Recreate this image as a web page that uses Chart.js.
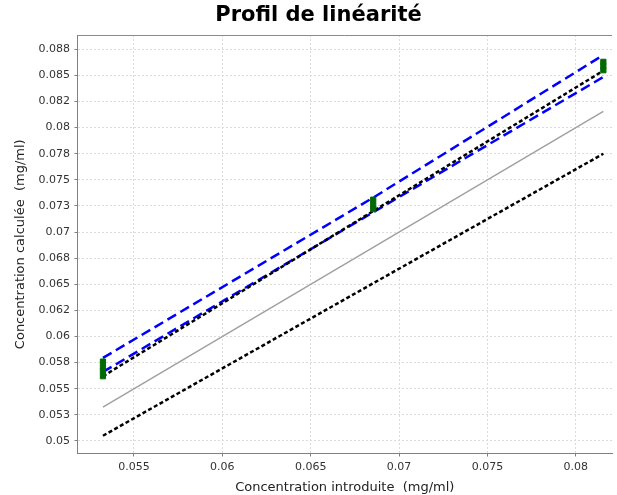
<!DOCTYPE html>
<html>
<head>
<meta charset="utf-8">
<script src="https://cdn.jsdelivr.net/npm/chart.js@4"></script>
<style>
  html, body { margin: 0; padding: 0; background: #ffffff; }
  #wrap { width: 617px; height: 495px; }
</style>
</head>
<body>
<div id="wrap"><canvas id="chart" width="617" height="495"></canvas></div>
<script>
// Concentration levels (introduced, mg/ml)
const xLevels = [0.05325, 0.06854, 0.08156];

// Measured (calculated) concentrations, replicates per level
const measuredL1 = [0.0576, 0.0571, 0.0567, 0.0562];
const measuredL2 = [0.0731, 0.0726, 0.0722];
const measuredL3 = [0.0863, 0.0859, 0.0855];

// Lines of the profile, one value per level
const upperTolerance = [0.05795, 0.0733, 0.08695];
const lowerTolerance = [0.05661, 0.0719, 0.08485];
const regressionLine = [0.0562, 0.07201, 0.08545];
const identityLine   = [0.05325, 0.06854, 0.08156];
const lowerLimit     = [0.0505, 0.0651, 0.0775];

// Axis ticks
const xTickValues = [0.055, 0.06, 0.065, 0.07, 0.075, 0.08];
const xTickLabels = ['0.055', '0.06', '0.065', '0.07', '0.075', '0.08'];
const yTickValues = [0.05, 0.0525, 0.055, 0.0575, 0.06, 0.0625, 0.065, 0.0675,
                     0.07, 0.0725, 0.075, 0.0775, 0.08, 0.0825, 0.085, 0.0875];
const yTickLabels = ['0.05', '0.053', '0.055', '0.058', '0.06', '0.062', '0.065', '0.068',
                     '0.07', '0.073', '0.075', '0.078', '0.08', '0.082', '0.085', '0.088'];

const chartTitle = 'Profil de linéarité';

const toPoints = (ys) => ys.map((y, i) => ({ x: xLevels[i], y: y }));
const replicatePoints = [
  ...measuredL1.map(y => ({ x: xLevels[0], y })),
  ...measuredL2.map(y => ({ x: xLevels[1], y })),
  ...measuredL3.map(y => ({ x: xLevels[2], y }))
];

const lineDefaults = { pointRadius: 0, fill: false, tension: 0, showLine: true };

const tickFont = { family: 'DejaVu Sans', size: 11 };
const axisTitleFont = { family: 'DejaVu Sans', size: 13 };

// Top edge of the plot frame and the chart heading
const frameAndHeading = {
  id: 'frameAndHeading',
  beforeDatasetsDraw(chart) {
    const { ctx, chartArea } = chart;
    ctx.save();
    ctx.strokeStyle = '#8a8a8a';
    ctx.lineWidth = 1;
    ctx.beginPath();
    ctx.moveTo(chartArea.left, Math.round(chartArea.top) + 0.5);
    ctx.lineTo(chartArea.right, Math.round(chartArea.top) + 0.5);
    ctx.stroke();
    ctx.restore();
  },
  afterDraw(chart) {
    const { ctx } = chart;
    ctx.save();
    ctx.font = 'bold 21px "DejaVu Sans"';
    ctx.fillStyle = '#000000';
    ctx.textAlign = 'center';
    ctx.textBaseline = 'middle';
    ctx.fillText(chartTitle, 318.5, 16);
    ctx.restore();
  }
};

new Chart(document.getElementById('chart'), {
  type: 'line',
  data: {
    datasets: [
      {
        label: 'Mesures',
        data: replicatePoints,
        showLine: false,
        pointStyle: 'rect',
        pointRadius: 3.7,
        pointBorderWidth: 1,
        pointBackgroundColor: '#006a00',
        pointBorderColor: '#006a00'
      },
      {
        ...lineDefaults,
        label: 'Droite de régression',
        data: toPoints(regressionLine),
        borderColor: '#000000',
        borderWidth: 2.5,
        borderDash: [4, 2.5]
      },
      {
        ...lineDefaults,
        label: 'Intervalle de tolérance (haut)',
        data: toPoints(upperTolerance),
        borderColor: '#0000ff',
        borderWidth: 2.5,
        borderDash: [10, 5]
      },
      {
        ...lineDefaults,
        label: 'Intervalle de tolérance (bas)',
        data: toPoints(lowerTolerance),
        borderColor: '#0000ff',
        borderWidth: 2.5,
        borderDash: [10, 5]
      },
      {
        ...lineDefaults,
        label: 'Limite basse',
        data: toPoints(lowerLimit),
        borderColor: '#000000',
        borderWidth: 2.5,
        borderDash: [4, 2.5]
      },
      {
        ...lineDefaults,
        label: 'y = x',
        data: toPoints(identityLine),
        borderColor: '#a0a0a0',
        borderWidth: 1.4
      }
    ]
  },
  options: {
    responsive: false,
    animation: false,
    layout: { padding: { left: 0, right: 0, top: 35, bottom: 0 } },
    plugins: {
      legend: { display: false },
      tooltip: { enabled: false },
      title: { display: false }
    },
    scales: {
      x: {
        type: 'linear',
        min: 0.05181,
        max: 0.08205,
        afterBuildTicks: (s) => { s.ticks = xTickValues.map(v => ({ value: v })); },
        afterFit: (s) => { s.height = 41.5; s.paddingRight = 0; s.paddingLeft = 0; },
        ticks: {
          callback: (v, i) => xTickLabels[i],
          font: tickFont,
          color: '#333333',
          padding: 4,
          maxRotation: 0
        },
        grid: {
          color: '#dcdcdc',
          tickColor: '#808080',
          tickLength: 3,
          tickBorderDash: []
        },
        border: { color: '#808080', width: 1, dash: [2, 2] },
        title: {
          display: true,
          text: 'Concentration introduite  (mg/ml)',
          color: '#222222',
          font: axisTitleFont,
          padding: { top: 0, bottom: 0 }
        }
      },
      y: {
        type: 'linear',
        min: 0.0488,
        max: 0.08887,
        afterBuildTicks: (s) => { s.ticks = yTickValues.map(v => ({ value: v })); },
        afterFit: (s) => { s.width = 77.5; },
        ticks: {
          callback: (v, i) => yTickLabels[i],
          font: tickFont,
          color: '#333333',
          padding: 4.5
        },
        grid: {
          color: '#dcdcdc',
          tickColor: '#808080',
          tickLength: 3,
          tickBorderDash: []
        },
        border: { color: '#808080', width: 1, dash: [2, 2] },
        title: {
          display: true,
          text: 'Concentration calculée  (mg/ml)',
          color: '#222222',
          font: axisTitleFont,
          padding: { top: 13, bottom: 0 }
        }
      }
    }
  },
  plugins: [frameAndHeading]
});
</script>
</body>
</html>
